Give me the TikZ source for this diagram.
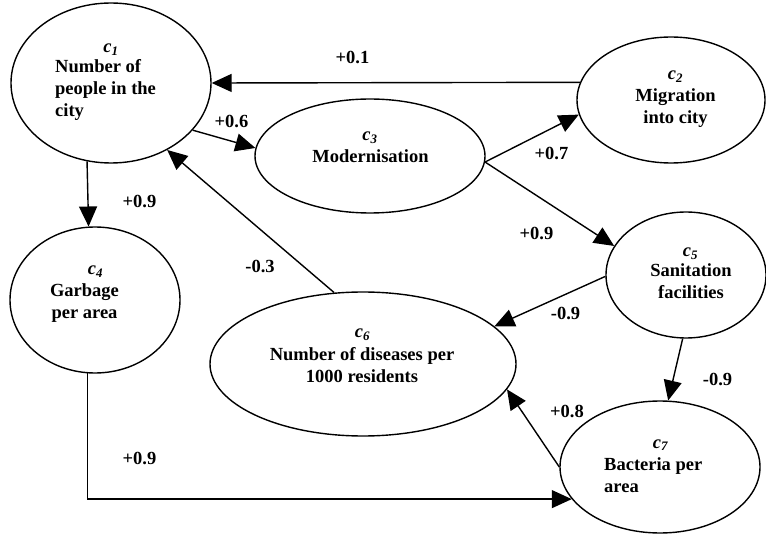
\documentclass[tikz,border=0pt]{standalone}
\usepackage{fontspec}
\setmainfont{Liberation Serif}
\usetikzlibrary{arrows.meta,shapes.geometric}
\begin{document}
\begin{tikzpicture}[x=1pt,y=-1pt,
  ell/.style 2 args={draw, ellipse, line width=1.4pt, inner sep=0pt, minimum width=#1pt, minimum height=#2pt},
  clab/.style={anchor=base, inner sep=0pt, font=\fontsize{18.5}{22}\selectfont\bfseries\itshape},
  blk/.style={inner sep=0pt, font=\fontsize{18.5}{22}\selectfont\bfseries},
  lab/.style={inner sep=0pt, font=\fontsize{18.5}{22}\selectfont\bfseries},
  arr/.style={line width=1.4pt, -{Triangle[length=20pt,width=18pt]}}]
\fill[white] (0,0) rectangle (766,537);
\useasboundingbox (0,0) rectangle (766,537);
% ellipses
\node[ell={200}{160}] (c1) at (111,83) {};
\node[ell={188}{126}] (c2) at (671,100) {};
\node[ell={230}{114}] (c3) at (370,156) {};
\node[ell={170}{146}] (c4) at (95,300) {};
\node[ell={160}{126}] (c5) at (686,275) {};
\node[ell={306}{144}] (c6) at (363,364) {};
\node[ell={200}{132}] (c7) at (660,467) {};
% texts
\node[clab] (l1) at (111,53) {c\textsubscript{1}};
\node[blk, anchor=base west] (b1) at (55,73) {\begin{tabular}[t]{@{}l@{}}Number of\\people in the\\city\end{tabular}};
\node[clab] (l2) at (675.5,80) {c\textsubscript{2}};
\node[blk, anchor=base] (b2) at (675.5,102) {\begin{tabular}[t]{@{}c@{}}Migration\\into city\end{tabular}};
\node[clab] (l3) at (370,141) {c\textsubscript{3}};
\node[blk, anchor=base] (b3) at (370.5,163) {Modernisation};
\node[clab] (l4) at (95.5,275) {c\textsubscript{4}};
\node[blk, anchor=base] (b4) at (84.5,297) {\begin{tabular}[t]{@{}c@{}}Garbage\\per area\end{tabular}};
\node[clab] (l5) at (690.5,257) {c\textsubscript{5}};
\node[blk, anchor=base] (b5) at (691,277) {\begin{tabular}[t]{@{}c@{}}Sanitation\\facilities\end{tabular}};
\node[clab] (l6) at (362.5,338) {c\textsubscript{6}};
\node[blk, anchor=base] (b6) at (362,360) {\begin{tabular}[t]{@{}c@{}}Number of diseases per\\1000 residents\end{tabular}};
\node[clab] (l7) at (660.5,448) {c\textsubscript{7}};
\node[blk, anchor=base west] (b7) at (604,470) {\begin{tabular}[t]{@{}l@{}}Bacteria per\\area\end{tabular}};
% connectors
\draw[arr] (c2.169.4) -- (c1.east);
\draw[arr] (c1.-30.6) -- (c3.176);
\draw[arr] (c3.-3.5) -- (c2.-171);
\draw[arr] (c3.-3) -- (c5.158);
\draw[arr] (c5.181.5) -- (c6.16.4);
\draw[arr] (c6.112.9) -- (c1.-50.3);
\draw[arr] (c1.253.6) -- (c4.95.5);
\draw[arr] (c5.267.3) -- (c7.83.8);
\draw[arr] (c7.180) -- (c6.-10.5);
\draw[arr] (c4.264.5) |- (c7.200.9);
% edge labels
\node[lab] (e21) at (352.5,57.5) {+0.1};
\node[lab] (e13) at (231.5,121) {+0.6};
\node[lab] (e32) at (551.5,153) {+0.7};
\node[lab] (e35) at (536.5,233.5) {+0.9};
\node[lab] (e56) at (565.5,313.5) {-0.9};
\node[lab] (e61) at (260,266.5) {-0.3};
\node[lab] (e14) at (139.5,201) {+0.9};
\node[lab] (e47) at (139.5,458.5) {+0.9};
\node[lab] (e57) at (717.5,379) {-0.9};
\node[lab] (e76) at (567,411.5) {+0.8};
\end{tikzpicture}
\end{document}
